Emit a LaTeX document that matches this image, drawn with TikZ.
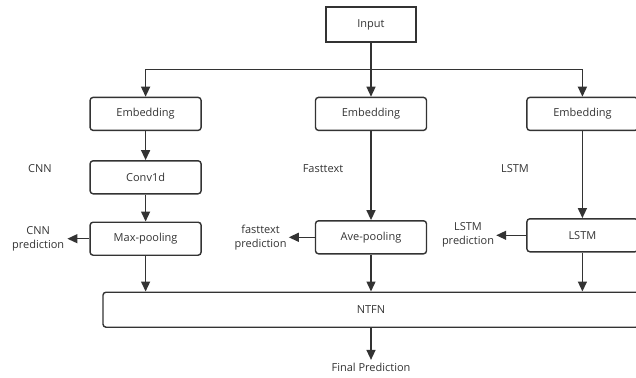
\documentclass[tikz,border=0pt]{standalone}
\usepackage{fontspec}
\setmainfont{Open Sans}
\usetikzlibrary{arrows.meta, positioning}
\definecolor{linegray}{HTML}{333333}
\tikzset{
  inbox/.style={rectangle, minimum width=90pt, minimum height=35pt, text centered, draw=linegray, line width=1.4pt, inner sep=0pt},
  stage/.style={rectangle, rounded corners=3pt, minimum width=111pt, minimum height=33pt, text centered, draw=linegray, line width=1.4pt, inner sep=0pt},
  fusion/.style={rectangle, rounded corners=3pt, minimum width=536pt, minimum height=35pt, text centered, draw=linegray, line width=1.4pt, inner sep=0pt},
  arrow/.style={line width=1.4pt, draw=linegray, -{Triangle[length=10pt, width=9pt]}},
  label/.style={align=center, inner sep=1pt}
}

\begin{document}
\begin{tikzpicture}[x=1pt, y=1pt, font=\fontsize{11}{14}\selectfont, text=linegray]

  \useasboundingbox (0,0) rectangle (636,-377);
  \clip (0,0) rectangle (636,-377);

  % Input and branches
  \node (input) [inbox] at (371,-24.5) {Input};
  \node (emb2) [stage, below=54pt of input] {Embedding};
  \node (emb1) [stage, left=113pt of emb2] {Embedding};
  \node (emb3) [stage, right=99pt of emb2] {Embedding};

  \coordinate (split) at ([yshift=-27pt]input.south);
  \draw [line width=1.4pt, draw=linegray] (input) -- (split);
  \draw [arrow] (split) -| (emb1);
  \draw [arrow] (split) -- (emb2);
  \draw [arrow] (split) -| (emb3);

  % Branch names
  \node (cnnname) [label] at (40,-169) {CNN};
  \node (ftname) [label] at (323,-169) {Fasttext};
  \node (lstmname) [label] at (515,-169) {LSTM};

  % CNN branch
  \node (conv) [stage, below=29pt of emb1] {Conv1d};
  \node (maxpool) [stage, below=27pt of conv] {Max-pooling};
  \draw [arrow] (emb1) -- (conv);
  \draw [arrow] (conv) -- (maxpool);

  % Fasttext branch
  \node (avepool) [stage, below=89pt of emb2] {Ave-pooling};
  \draw [arrow] (emb2) -- (avepool);

  % LSTM branch
  \node (lstm) [stage, below=87pt of emb3] {LSTM};
  \draw [arrow] (emb3) -- (lstm);

  % Predictions of each branch
  \node (cnnpred) [label, left=24pt of maxpool] {CNN\\prediction};
  \node (ftpred) [label, left=27pt of avepool] {fasttext\\prediction};
  \node (lstmpred) [label, left=31pt of lstm] {LSTM\\prediction};
  \draw [arrow] (maxpool) -- ([xshift=-22pt]maxpool.west);
  \draw [arrow] (avepool) -- ([xshift=-26pt]avepool.west);
  \draw [arrow] (lstm) -- ([xshift=-30pt]lstm.west);

  % Fusion
  \node (ntfn) [fusion, below=37pt of avepool] {NTFN};
  \draw [arrow] (maxpool) -- (maxpool |- ntfn.north);
  \draw [arrow] (avepool) -- (avepool |- ntfn.north);
  \draw [arrow] (lstm) -- (lstm |- ntfn.north);

  \node (final) [label, below=39pt of ntfn.south, anchor=center] {Final Prediction};
  \draw [arrow] (ntfn) -- ([yshift=-32pt]ntfn.south);

\end{tikzpicture}
\end{document}
